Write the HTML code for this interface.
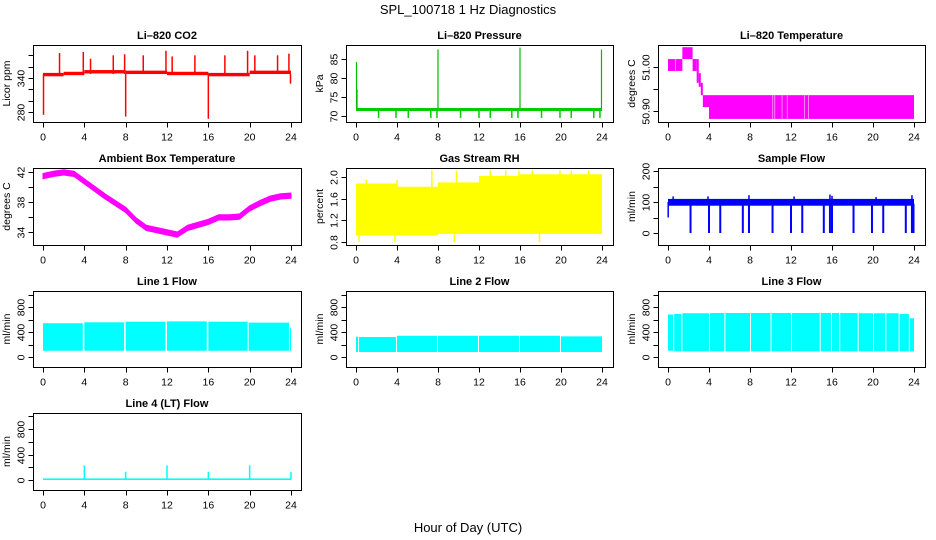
<!DOCTYPE html>
<html><head><meta charset="utf-8"><style>
html,body{margin:0;padding:0;background:#fff;}
svg{display:block;font-family:"Liberation Sans",sans-serif;}
</style></head><body>
<svg id="chart" width="936" height="540" viewBox="0 0 936 540" xmlns="http://www.w3.org/2000/svg">
<text x="468" y="14" text-anchor="middle" font-size="13">SPL_100718  1 Hz Diagnostics</text>
<text x="468" y="532" text-anchor="middle" font-size="13">Hour of Day (UTC)</text>
</svg>
<script>
// ---------- DATA ----------
var xTicks = [0,4,8,12,16,20,24];
// CO2 (ppm)
var co2BandHours = [0,2,4,8,12,16,20,24];
var co2BandMid   = [346,348,351,350,348,346,350];
var co2SpikeHours = [0.05,1.6,3.9,4.6,6.8,7.9,8.0,9.7,11.9,12.5,14.7,16.0,17.6,19.8,20.5,22.7,23.8,23.95];
var co2SpikeVals  = [275,384,386,374,380,382,272,380,388,378,380,268,380,388,380,380,383,330];
// Pressure (kPa)
var presBandLo = 71.3, presBandHi = 72.1;
var presSpikeHours = [0.05,0.1,8.0,16.0,23.95];
var presSpikeVals  = [84.2,77,87.5,88,87.5];
var presDipHours = [2.2,3.9,5.1,7.3,7.9,10.2,12.0,13.1,15.2,15.8,18.1,19.9,21.0,23.2,23.8];
var presDipVals  = [69.5,69.5,69.5,69.5,69.5,69.5,69.5,69.5,69.5,69.5,69.5,69.5,69.5,69.5,69.5];
// Li-820 temperature (deg C)
var tempStart = [0,0.75,1.4,2.4,2.8,3.0,3.2,3.4,4.0,10.25,10.45,11.15,11.65,13.35,13.75];
var tempEnd   = [0.7,1.4,2.4,2.8,3.0,3.2,3.4,4.0,10.2,10.4,11.1,11.6,13.3,13.7,24.0];
var tempLo    = [50.991,50.991,51.018,50.991,50.964,50.955,50.936,50.909,50.882,50.882,50.882,50.882,50.882,50.882,50.882];
var tempHi    = [51.018,51.018,51.045,51.018,51.018,50.986,50.964,50.936,50.936,50.936,50.936,50.936,50.936,50.936,50.936];
// Ambient box temperature (deg C)
var ambHours = [0,1,2,3,4,5,6,7,8,9,10,11,12,13,14,15,16,17,18,19,20,21,22,23,24];
var ambVals  = [41.5,41.8,42.0,41.8,40.8,39.8,38.8,37.9,37.0,35.6,34.6,34.3,34.0,33.7,34.6,35.0,35.4,36.0,36.0,36.1,37.2,37.9,38.5,38.8,38.9];
// Gas stream RH (%)
var rhHours = [0,4,8,12,16,20,24];
var rhLo    = [0.92,0.92,0.95,0.95,0.95,0.95];
var rhHi    = [1.88,1.82,1.90,2.02,2.05,2.05];
var rhSpikeHours = [1.0,4.0,7.4,9.8,13.1,14.6,15.9,17.2,19.9,21.0,22.7,0.3,3.8,9.6,17.9];
var rhSpikeVals  = [1.95,1.95,2.12,2.12,2.12,2.12,2.12,2.12,2.12,2.12,2.12,0.80,0.80,0.80,0.80];
// Sample flow (ml/min)
var sfBandLo = 88, sfBandHi = 110;
var sfDipHours = [2.2,4.0,5.1,7.3,7.9,10.2,12.0,13.1,15.2,15.8,16.0,18.1,19.9,21.0,23.2,23.8,23.95];
var sfDipVals  = [0,0,0,0,0,0,0,0,0,0,0,0,0,0,0,0,0];
var sfSpikeHours = [0.5,3.9,7.9,12.3,15.8,16.0,20.3,23.8];
var sfSpikeVals  = [118,118,122,118,124,120,116,122];
// Line flows (ml/min): segments
var l1Start = [0,4.0,8.0,12.0,16.0,19.9,23.9];
var l1End   = [3.85,7.85,11.85,15.85,19.8,23.8,24.0];
var l1Hi    = [540,555,565,570,565,550,460];
var l1Lo    = [100,100,100,100,100,100,100];
var l2Start = [0,0.3,4.0,8.0,12.0,16.0,20.0];
var l2End   = [0.2,3.9,7.9,11.9,15.9,19.9,24.0];
var l2Hi    = [325,320,340,340,340,340,330];
var l2Lo    = [80,80,80,80,80,80,80];
var l3Start = [0,0.6,1.4,4.1,5.6,8.1,10.1,12.1,14.9,16.0,16.8,18.6,20.1,21.3,22.6,23.6];
var l3End   = [0.5,1.3,4.0,5.5,8.0,10.0,12.0,14.8,15.9,16.7,18.5,20.0,21.2,22.5,23.5,24.0];
var l3Hi    = [680,690,700,704,704,704,704,704,704,704,704,700,700,700,690,620];
var l3Lo    = [100,90,90,90,90,90,90,90,90,90,90,90,90,90,90,90];
// Line 4 (LT) flow
var l4BaseLo = 0, l4BaseHi = 25;
var l4SpikeHours = [4.0,8.0,12.0,16.0,20.0,24.0];
var l4SpikeVals  = [230,130,230,130,230,130];

// ---------- DRAWING ----------
var NS = "http://www.w3.org/2000/svg";
var svg = document.getElementById('chart');
function mk(tag, attrs, parent){
  var e = document.createElementNS(NS, tag);
  for (var k in attrs) e.setAttribute(k, attrs[k]);
  (parent||svg).appendChild(e);
  return e;
}
var cols = [{bx0:33,bx1:301,h0:43,h24:291},{bx0:346,bx1:613,h0:356,h24:602},{bx0:658,bx1:925,h0:668,h24:914}];
var rows = [{by0:45,by1:122},{by0:168,by1:245},{by0:291,by1:367},{by0:413,by1:490}];

function panel(name, title, ylab, col, row, vA, yA, vB, yB, yticks, ylabels){
  var c = cols[col], r = rows[row];
  var g = mk('g', {});
  
  
  var sx = function(h){ return c.h0 + h*(c.h24-c.h0)/24; };
  var sy = function(v){ return yA + (v-vA)*(yB-yA)/(vB-vA); };
  var t = mk('text', {x:(c.bx0+c.bx1)/2, y:r.by0-6, 'text-anchor':'middle', 'font-size':11, 'font-weight':'bold'}, g);
  t.textContent = title;
  
  
  var marks = mk('g', {}, g);
  
  
  var box = mk('rect', {x:c.bx0+0.5, y:r.by0+0.5, width:c.bx1-c.bx0, height:r.by1-r.by0, fill:'none', stroke:'#000', 'stroke-width':1}, g);
  
  
  var xa = mk('g', {}, g);
  
  
  var yb = r.by1 + 0.5;
  mk('line', {x1:sx(0), x2:sx(24), y1:yb, y2:yb, stroke:'#000'}, xa);
  xTicks.forEach(function(h){
    mk('line', {x1:Math.round(sx(h))+0.5, x2:Math.round(sx(h))+0.5, y1:yb, y2:yb+5, stroke:'#000'}, xa);
    var tl = mk('text', {x:sx(h), y:yb+18, 'text-anchor':'middle', 'font-size':10.5}, xa);
    tl.textContent = h;
    
    
  });
  var ya = mk('g', {}, g);
  
  
  var xl = c.bx0 + 0.5;
  mk('line', {x1:xl, x2:xl, y1:sy(yticks[0]), y2:sy(yticks[yticks.length-1]), stroke:'#000'}, ya);
  yticks.forEach(function(v, i){
    var yy = Math.round(sy(v))+0.5;
    mk('line', {x1:xl-5, x2:xl, y1:yy, y2:yy, stroke:'#000'}, ya);
    if (ylabels[i] !== '') {
      var lx = xl - 9;
      var tl = mk('text', {x:lx, y:yy, 'text-anchor':'middle', 'font-size':10.5, transform:'rotate(-90 '+lx+' '+yy+')'}, ya);
      tl.textContent = ylabels[i];
      
      
    }
  });
  var ly = (r.by0+r.by1)/2, lxx = c.bx0 - 23;
  var yt = mk('text', {x:lxx, y:ly, 'text-anchor':'middle', 'font-size':10.5, transform:'rotate(-90 '+lxx+' '+ly+')'}, g);
  yt.textContent = ylab;
  
  
  return {sx:sx, sy:sy, g:marks};
}
function band(p, h0, h1, lo, hi, color){
  var y1 = p.sy(hi), y2 = p.sy(lo);
  var r = mk('rect', {x:p.sx(h0), y:Math.min(y1,y2), width:Math.max(1,p.sx(h1)-p.sx(h0)), height:Math.max(1,Math.abs(y2-y1)), fill:color}, p.g);
  
  
}
function spike(p, h, from, to, color, w){
  var l = mk('line', {x1:p.sx(h), x2:p.sx(h), y1:p.sy(from), y2:p.sy(to), stroke:color, 'stroke-width':w||1.5}, p.g);
  
  
}

var p = panel('co2', 'Li\u2013820 CO2', 'Licor ppm', 0, 0, 280, 112, 340, 78,
  [280,300,320,340,360,380], ['280','','','340','','']);
for (var i=0;i<co2BandMid.length;i++) band(p, co2BandHours[i], co2BandHours[i+1], co2BandMid[i]-3, co2BandMid[i]+3, '#ff0000');
for (var i=0;i<co2SpikeHours.length;i++) spike(p, co2SpikeHours[i], 347, co2SpikeVals[i], '#ff0000', 1.5);

p = panel('pressure', 'Li\u2013820 Pressure', 'kPa', 1, 0, 70, 116, 85, 59,
  [70,75,80,85], ['70','75','80','85']);
band(p, 0, 24, presBandLo, presBandHi, '#00cc00');
for (var i=0;i<presSpikeHours.length;i++) spike(p, presSpikeHours[i], 72, presSpikeVals[i], '#00bb00', 1.2);
for (var i=0;i<presDipHours.length;i++) spike(p, presDipHours[i], 71.5, presDipVals[i], '#00cc00', 1.5);

p = panel('li820-temp', 'Li\u2013820 Temperature', 'degrees C', 2, 0, 50.90, 111, 51.00, 67,
  [50.90,50.95,51.00], ['50.90','','51.00']);
for (var i=0;i<tempStart.length;i++) band(p, tempStart[i], tempEnd[i], tempLo[i], tempHi[i], '#ff00ff');

p = panel('ambient-temp', 'Ambient Box Temperature', 'degrees C', 0, 1, 34, 232, 42, 172,
  [34,36,38,40,42], ['34','','38','','42']);
(function(){
  var up = ambHours.map(function(h,i){ return p.sx(h)+','+p.sy(ambVals[i]+0.3); });
  var dn = ambHours.map(function(h,i){ return p.sx(h)+','+p.sy(ambVals[i]-0.4); }).reverse();
  var pg = mk('polygon', {points:up.concat(dn).join(' '), fill:'#ff00ff', stroke:'#ff00ff', 'stroke-width':1}, p.g);
  
  
})();

p = panel('rh', 'Gas Stream RH', 'percent', 1, 1, 0.8, 242, 2.0, 177,
  [0.8,1.2,1.6,2.0], ['0.8','1.2','1.6','2.0']);
for (var i=0;i<rhLo.length;i++) band(p, rhHours[i], rhHours[i+1], rhLo[i], rhHi[i], '#ffff00');
for (var i=0;i<rhSpikeHours.length;i++) spike(p, rhSpikeHours[i], 1.5, rhSpikeVals[i], '#ffff00', 1.5);

p = panel('sample-flow', 'Sample Flow', 'ml/min', 2, 1, 0, 233, 200, 171,
  [0,50,100,150,200], ['0','','100','','200']);
band(p, 0, 24, sfBandLo, sfBandHi, '#0000ff');
spike(p, 0.02, 50, 100, '#0000ff', 1.5);
for (var i=0;i<sfDipHours.length;i++) spike(p, sfDipHours[i], 95, sfDipVals[i], '#0000ff', 2);
for (var i=0;i<sfSpikeHours.length;i++) spike(p, sfSpikeHours[i], 100, sfSpikeVals[i], '#0000ff', 1.5);

var flowTicks = [0,200,400,600,800,1000], flowLabels = ['0','','400','','800',''];
p = panel('line1-flow', 'Line 1 Flow', 'ml/min', 0, 2, 0, 357, 800, 307, flowTicks, flowLabels);
for (var i=0;i<l1Start.length;i++) band(p, l1Start[i], l1End[i], l1Lo[i], l1Hi[i], '#00ffff');
p = panel('line2-flow', 'Line 2 Flow', 'ml/min', 1, 2, 0, 357, 800, 307, flowTicks, flowLabels);
for (var i=0;i<l2Start.length;i++) band(p, l2Start[i], l2End[i], l2Lo[i], l2Hi[i], '#00ffff');
p = panel('line3-flow', 'Line 3 Flow', 'ml/min', 2, 2, 0, 357, 800, 307, flowTicks, flowLabels);
for (var i=0;i<l3Start.length;i++) band(p, l3Start[i], l3End[i], l3Lo[i], l3Hi[i], '#00ffff');
p = panel('line4-flow', 'Line 4 (LT) Flow', 'ml/min', 0, 3, 0, 480, 800, 429, flowTicks, flowLabels);
band(p, 0, 24, l4BaseLo, l4BaseHi, '#00ffff');
for (var i=0;i<l4SpikeHours.length;i++) spike(p, l4SpikeHours[i], 10, l4SpikeVals[i], '#00ffff', 1.5);
</script>
</body></html>
